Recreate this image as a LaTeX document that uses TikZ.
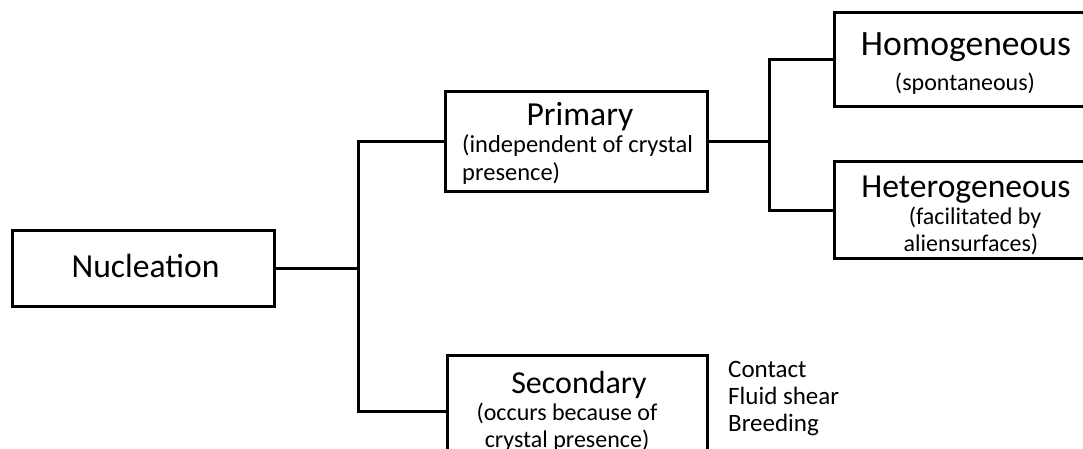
\documentclass[tikz,border=0pt]{standalone}
\usepackage{fontspec}
\setmainfont{Carlito}
\begin{document}
\begin{tikzpicture}[x=1pt,y=-1pt,
  box/.style={draw, rectangle, inner sep=0pt, outer sep=0pt, anchor=north west, line width=3pt},
  wire/.style={line width=3pt, line join=miter},
  lbl/.style={anchor=base, inner sep=0pt},
  lblw/.style={anchor=base west, inner sep=0pt},
  sub/.style={font=\fontsize{24}{28}\selectfont},
  side/.style={anchor=base west, inner sep=0pt, font=\fontsize{25}{27}\selectfont}]
\useasboundingbox (0,0) rectangle (1083,449);
\clip (0,0) rectangle (1083,449);

% boxes
\node[box, minimum width=261.5pt, minimum height=76pt] (nuc) at (12.5,230) {};
\node[box, minimum width=262pt, minimum height=99pt] (prim) at (445,92) {};
\node[box, minimum width=260pt, minimum height=112pt] (sec) at (447,355) {};
\node[box, minimum width=260pt, minimum height=94pt] (homo) at (834,13) {};
\node[box, minimum width=260pt, minimum height=96pt] (het) at (834,162) {};

% connectors
\coordinate (ja) at (358,141.5);
\coordinate (jb) at (769,141.5);
\draw[wire] (prim.west) -- (ja) |- (sec.west);
\draw[wire] (nuc.east) -- (ja |- nuc.east);
\draw[wire] (prim.east) -- (jb);
\draw[wire] (homo.west) -- (jb |- homo.west) |- (het.west);

% labels
\node[lbl, font=\fontsize{33.6}{40}\selectfont] (tnuc) at (145.5,277) {Nucleation};

\node[lbl, font=\fontsize{33.6}{40}\selectfont] (tprim) at (580,126) {Primary};
\node[lblw, font=\fontsize{24.5}{28}\selectfont] (tprim1) at (462,153) {(independent of crystal};
\node[lblw, font=\fontsize{24.5}{28}\selectfont] (tprim2) at (462,181) {presence)};

\node[lbl, font=\fontsize{32}{38}\selectfont] (tsec) at (579,393) {Secondary};
\node[lbl, sub] (tsec1) at (567,420) {(occurs because of};
\node[lbl, sub] (tsec2) at (567,447) {crystal presence)};

\node[lbl, font=\fontsize{35.6}{42}\selectfont] (thomo) at (966,56) {Homogeneous};
\node[lbl, sub] (thomo1) at (965,91) {(spontaneous)};

\node[lbl, font=\fontsize{33.6}{40}\selectfont] (thet) at (966,197) {Heterogeneous};
\node[lbl, sub] (thet1) at (975,224) {(facilitated by};
\node[lbl, sub] (thet2) at (971,251) {aliensurfaces)};

\node[side] (m1) at (728,377) {Contact};
\node[side] (m2) at (728,404) {Fluid shear};
\node[side] (m3) at (728,431) {Breeding};
\end{tikzpicture}
\end{document}
